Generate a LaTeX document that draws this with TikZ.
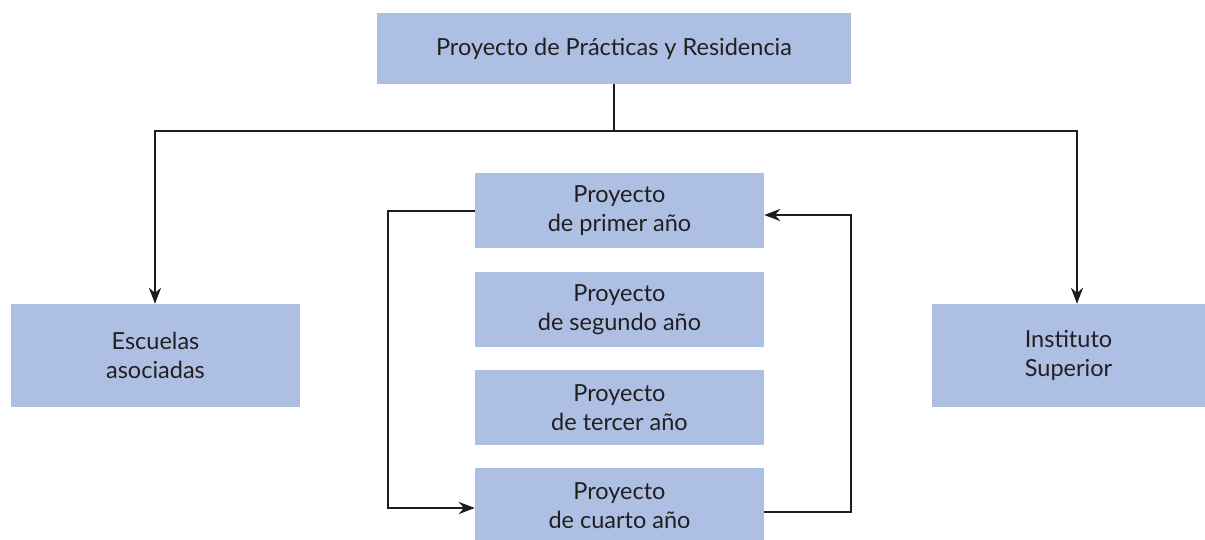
\documentclass[tikz,border=0pt]{standalone}
\usepackage{fontspec}
\setmainfont{Lato}
\usetikzlibrary{arrows.meta}
\definecolor{boxblue}{RGB}{173,192,228}
\definecolor{txt}{RGB}{35,31,32}
\definecolor{ln}{RGB}{30,28,28}
\begin{document}
\begin{tikzpicture}[x=1pt,y=-1pt,
  box/.style={fill=boxblue,draw=none,inner sep=0pt,align=center,text=txt,
    font=\fontsize{23.5}{29}\selectfont},
  conn/.style={draw=ln,line width=2.8pt},
  arr/.style={conn,-{Stealth[length=16pt,width=12pt]}}]
\useasboundingbox (0,0) rectangle (1205,539);
\begin{scope}
\clip (0,0) rectangle (1205,539);
\node[box,minimum width=474pt,minimum height=71pt] (top) at (614,48.5) {Proyecto de Prácticas y Residencia};
\node[box,minimum width=289pt,minimum height=103pt] (esc) at (155.5,355.5) {Escuelas\\asociadas};
\node[box,minimum width=273pt,minimum height=103pt] (ins) at (1068.5,355.5) {Instituto\\Superior};
\node[box,minimum width=289pt,minimum height=75pt] (p1) at (619.5,210.5) {Proyecto\\de primer año};
\node[box,minimum width=289pt,minimum height=75pt] (p2) at (619.5,309.5) {Proyecto\\de segundo año};
\node[box,minimum width=289pt,minimum height=75pt] (p3) at (619.5,407.5) {Proyecto\\de tercer año};
\node[box,minimum width=289pt,minimum height=75pt] (p4) at (619.5,505.5) {Proyecto\\de cuarto año};
\end{scope}
\coordinate (j) at (614,131);
\draw[conn] (top.south) -- (j);
\draw[arr] (j) -| (esc.north -| 155,0);
\draw[arr] (j) -| (ins.north -| 1077,0);
\draw[arr] ([yshift=-0.5pt]p1.west) -- (388,211) |- ([yshift=-2.5pt]p4.west);
\draw[arr] ([yshift=-6.5pt]p4.east) -- (851,512) |- ([yshift=-4.5pt]p1.east);
\end{tikzpicture}
\end{document}
